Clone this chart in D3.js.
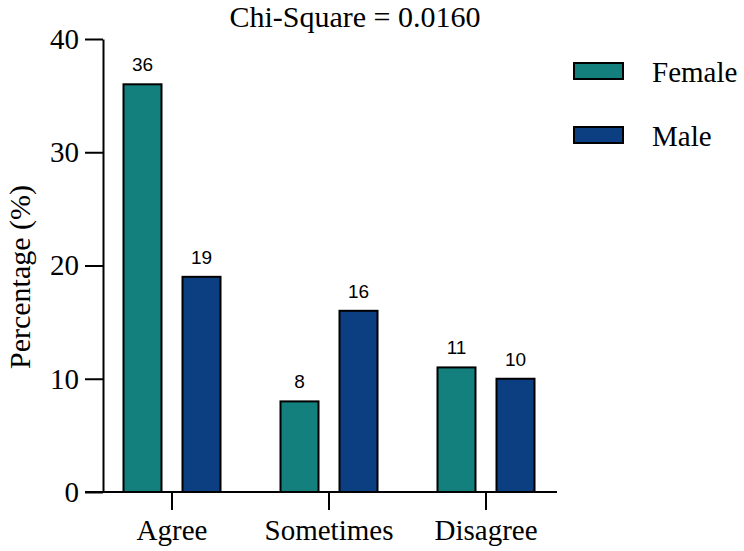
<!DOCTYPE html>
<html>
<head>
<meta charset="utf-8">
<script src="https://cdn.jsdelivr.net/npm/d3@7"></script>
<style>
  body { margin: 0; background: #fff; }
  svg text { fill: #000; }
  .serif { font-family: "Liberation Serif", "Times New Roman", "DejaVu Serif", serif; font-size: 29px; }
  .sans { font-family: "Liberation Sans", Arial, sans-serif; font-size: 19px; }
</style>
</head>
<body>
<script>
const categories = ["Agree", "Sometimes", "Disagree"];
const seriesNames = ["Female", "Male"];
const female = [36, 8, 11];
const male = [19, 16, 10];
const yTicks = [0, 10, 20, 30, 40];
const colors = ["#13807d", "#0b3f82"];

const width = 744, height = 551;
const svg = d3.select("body").append("svg")
    .attr("width", width)
    .attr("height", height);

const yAxisX = 103;
const y = d3.scaleLinear().domain([0, 40]).range([492, 39]);
const x = d3.scaleBand().domain(categories).range([93.5, 564.5]);
const x1 = d3.scaleBand().domain(seriesNames).range([0, 97]).paddingInner(0.356);
const groupOffset = (x.bandwidth() - 97) / 2;

// bars
const rows = categories.map((c, i) => ({ cat: c, vals: [female[i], male[i]] }));
const groups = svg.selectAll(".grp")
    .data(rows)
    .enter().append("g")
    .attr("class", "grp")
    .attr("transform", d => `translate(${x(d.cat) + groupOffset},0)`);

groups.selectAll("rect")
    .data(d => d.vals.map((v, j) => ({ name: seriesNames[j], v: v, j: j })))
    .enter().append("rect")
    .attr("x", d => x1(d.name))
    .attr("y", d => y(d.v))
    .attr("width", x1.bandwidth())
    .attr("height", d => y(0) - y(d.v))
    .attr("fill", d => colors[d.j])
    .attr("stroke", "#000")
    .attr("stroke-width", 2);

groups.selectAll(".lbl")
    .data(d => d.vals.map((v, j) => ({ name: seriesNames[j], v: v })))
    .enter().append("text")
    .attr("class", "sans")
    .attr("x", d => x1(d.name) + x1.bandwidth() / 2)
    .attr("y", d => y(d.v) - 13)
    .attr("text-anchor", "middle")
    .text(d => d.v);

// y axis
const yAxis = d3.axisLeft(y)
    .tickValues(yTicks)
    .tickSize(18)
    .tickPadding(6)
    .tickSizeOuter(0);
const yg = svg.append("g")
    .attr("transform", `translate(${yAxisX},0)`)
    .call(yAxis)
    .attr("font-family", null)
    .attr("font-size", null);
yg.selectAll("line, path").attr("stroke", "#000").attr("stroke-width", 2);
yg.selectAll("text").attr("class", "serif");

// x axis
const xAxis = d3.axisBottom(x).tickSize(18).tickPadding(9).tickSizeOuter(0);
const xg = svg.append("g")
    .attr("transform", `translate(0,${y(0)})`)
    .call(xAxis)
    .attr("font-family", null)
    .attr("font-size", null);
xg.select(".domain").remove();
xg.append("line")
    .attr("x1", 85).attr("x2", 557)
    .attr("y1", 0).attr("y2", 0);
xg.selectAll("line").attr("stroke", "#000").attr("stroke-width", 2);
xg.selectAll("text").attr("class", "serif");

// title
svg.append("text")
    .attr("class", "serif")
    .style("font-size", "30px")
    .attr("x", 355)
    .attr("y", 27)
    .attr("text-anchor", "middle")
    .text("Chi-Square = 0.0160");

// y label
svg.append("text")
    .attr("class", "serif")
    .style("font-size", "30px")
    .attr("transform", "translate(30,277) rotate(-90)")
    .attr("text-anchor", "middle")
    .text("Percentage (%)");

// legend
const legend = svg.selectAll(".leg")
    .data(seriesNames)
    .enter().append("g")
    .attr("class", "leg")
    .attr("transform", (d, i) => `translate(574,${63 + i * 64})`);
legend.append("rect")
    .attr("width", 49)
    .attr("height", 16)
    .attr("fill", (d, i) => colors[i])
    .attr("stroke", "#000")
    .attr("stroke-width", 2);
legend.append("text")
    .attr("class", "serif")
    .attr("x", 78)
    .attr("y", 19)
    .text(d => d);
</script>
</body>
</html>
